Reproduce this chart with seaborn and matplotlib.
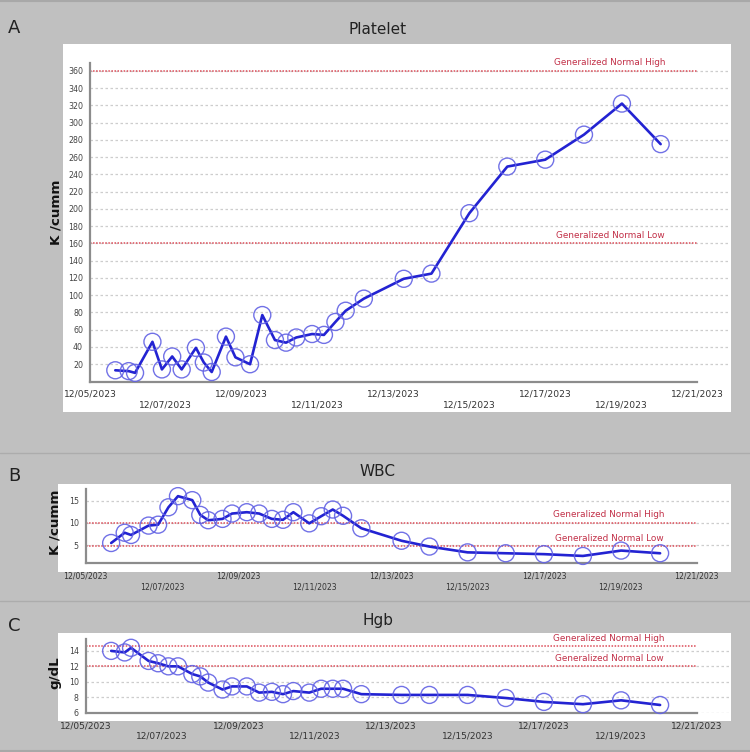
import matplotlib
matplotlib.use("Agg")
import matplotlib.pyplot as plt
import matplotlib.dates as mdates
import pandas as pd
import seaborn as sns
from matplotlib.patches import Rectangle
from matplotlib.lines import Line2D

# sample times, shared by the three labs
times = pd.to_datetime([
    "2023-12-05 16:00", "2023-12-06 00:30", "2023-12-06 04:30", "2023-12-06 15:30",
    "2023-12-06 21:30", "2023-12-07 04:00", "2023-12-07 10:00", "2023-12-07 19:00",
    "2023-12-08 00:00", "2023-12-08 05:00", "2023-12-08 14:00", "2023-12-08 20:00",
    "2023-12-09 05:15", "2023-12-09 13:00", "2023-12-09 21:00", "2023-12-10 04:00",
    "2023-12-10 10:30", "2023-12-10 20:30", "2023-12-11 04:00", "2023-12-11 11:15",
    "2023-12-11 17:45", "2023-12-12 05:15", "2023-12-13 06:30", "2023-12-14 00:00",
    "2023-12-15 00:00", "2023-12-16 00:00", "2023-12-17 00:00", "2023-12-18 00:30",
    "2023-12-19 00:30", "2023-12-20 01:00",
])

platelet = [13, 12, 10, 46, 14, 29, 14, 39, 22, 11, 52, 28, 20, 77, 48, 45, 51, 55,
            54, 69, 82, 96, 119, 125, 195, 249, 257, 286, 322, 275]
wbc = [5.5, 7.8, 7.3, 9.4, 9.6, 13.5, 16.0, 15.1, 11.8, 10.6, 10.9, 12.1, 12.4, 12.1,
       10.9, 10.7, 12.4, 9.9, 11.5, 13.0, 11.6, 8.8, 6.0, 4.7, 3.4, 3.2, 3.0, 2.6, 3.8, 3.2]
hgb = [14.0, 13.8, 14.4, 12.7, 12.4, 12.0, 12.0, 11.0, 10.7, 9.9, 9.0, 9.4, 9.4, 8.6,
       8.7, 8.4, 8.8, 8.6, 9.1, 9.1, 9.1, 8.4, 8.3, 8.3, 8.3, 7.9, 7.4, 7.1, 7.6, 7.0]

# generalized normal (low, high)
platelet_normal = (160, 360)
wbc_normal = (4.8, 10.0)
hgb_normal = (12.0, 14.6)

platelet_ticks = list(range(20, 361, 20))
wbc_ticks = [5, 10, 15]
hgb_ticks = [6, 8, 10, 12, 14]

date_ticks = pd.date_range("2023-12-05", "2023-12-21", freq="2D")
date_labels = [d.strftime("%m/%d/%Y") for d in date_ticks]

W, H = 750, 752
BG = "#c0c0c0"
LINE_C = "#2323d2"
MARK_C = "#6262e4"
REF_C = "#dc4c58"
REF_TXT = "#c23048"
LABEL_X = pd.Timestamp("2023-12-18 17:00")


def fig_rect(l, r, t, b):
    return [l / W, 1 - b / H, (r - l) / W, (b - t) / H]


sns.set_theme(style="white")
plt.rcParams["font.family"] = ["DejaVu Sans"]

fig = plt.figure(figsize=(W / 100, H / 100), dpi=100, facecolor=BG)

panels = [
    dict(letter="A", title="Platelet", unit="K /cumm", values=platelet,
         normal=platelet_normal, yticks=platelet_ticks, ylim=(0, 369),
         axes_px=(90, 729, 63, 381.5), x21=697, box=(63, 731, 44, 412),
         letter_y=28, title_y=30, unit_xy=(56, 212), xfs=6.6, yfs=5.7),
    dict(letter="B", title="WBC", unit="K /cumm", values=wbc,
         normal=wbc_normal, yticks=wbc_ticks, ylim=(0.95, 17.6),
         axes_px=(85.7, 729, 489, 563.3), x21=696.7, box=(58, 731, 484, 571.7),
         letter_y=476, title_y=471, unit_xy=(55, 522), xfs=5.6, yfs=5.7),
    dict(letter="C", title="Hgb", unit="g/dL", values=hgb,
         normal=hgb_normal, yticks=hgb_ticks, ylim=(6, 15.5),
         axes_px=(85.7, 729, 639.3, 712.7), x21=696.7, box=(58, 731, 633, 720.7),
         letter_y=626, title_y=620, unit_xy=(55, 673), xfs=6.5, yfs=5.7),
]

start = pd.Timestamp("2023-12-05")
end = pd.Timestamp("2023-12-21")

for p in panels:
    l, r, t, b = p["axes_px"]
    bl, br, bt, bb = p["box"]
    fig.add_artist(Rectangle((bl / W, 1 - bb / H), (br - bl) / W, (bb - bt) / H,
                             transform=fig.transFigure, facecolor="white",
                             edgecolor="none", zorder=-1))
    ax = fig.add_axes(fig_rect(l, r, t, b))
    ax.set_facecolor("none")

    days_right = 16 * (r - l) / (p["x21"] - l)

    ax.yaxis.grid(True, color="#cdcdcd", linestyle=(0, (2, 2)), linewidth=0.9, zorder=0)
    ax.xaxis.grid(False)

    for y in p["normal"]:
        ax.hlines(y, start, end, colors=REF_C, linestyles=(0, (1, 1)), linewidth=1.1, zorder=1)
    ax.annotate("Generalized Normal Low", xy=(mdates.date2num(LABEL_X), p["normal"][0]),
                xytext=(0, 2.5), textcoords="offset points", ha="center", va="bottom",
                fontsize=6.4, color=REF_TXT)
    ax.annotate("Generalized Normal High", xy=(mdates.date2num(LABEL_X), p["normal"][1]),
                xytext=(0, 2.5), textcoords="offset points", ha="center", va="bottom",
                fontsize=6.4, color=REF_TXT)

    sns.lineplot(x=times, y=p["values"], ax=ax, color=LINE_C, linewidth=1.9, zorder=3)
    sns.scatterplot(x=times, y=p["values"], ax=ax, s=150, facecolor="none",
                    edgecolor=MARK_C, linewidth=1.0, alpha=0.9, zorder=4, clip_on=False)

    ax.set_xlim(start, start + pd.Timedelta(days=days_right))
    ax.set_ylim(*p["ylim"])
    ax.set_xlabel("")
    ax.set_ylabel("")

    ax.set_xticks(date_ticks)
    ax.set_xticklabels([lab if i % 2 == 0 else "\n" + lab for i, lab in enumerate(date_labels)])
    ax.set_yticks(p["yticks"])
    ax.set_yticklabels([str(v) for v in p["yticks"]])

    ax.tick_params(axis="x", direction="inout", length=8, width=1.2, color="#8c8c8c",
                   labelsize=p["xfs"], labelcolor="#333333", pad=2)
    ax.tick_params(axis="y", direction="inout", length=6, width=1.2, color="#8c8c8c",
                   labelsize=p["yfs"], labelcolor="#444444", pad=2)

    for side in ["top", "right"]:
        ax.spines[side].set_visible(False)
    for side in ["left", "bottom"]:
        ax.spines[side].set_color("#8c8c8c")
        ax.spines[side].set_linewidth(1.6)
    ax.spines["bottom"].set_bounds(mdates.date2num(start), mdates.date2num(end))

    fig.text(14 / W, 1 - p["letter_y"] / H, p["letter"], fontsize=13, color="#222222",
             ha="center", va="center")
    fig.text(378 / W, 1 - p["title_y"] / H, p["title"], fontsize=11, color="#222222",
             ha="center", va="center")
    ux, uy = p["unit_xy"]
    fig.text(ux / W, 1 - uy / H, p["unit"], fontsize=9.6, fontweight="bold",
             color="#111111", rotation=90, ha="center", va="center")

# panel separators and outer frame
for y in [452.7, 600.7]:
    fig.add_artist(Line2D([0, 1], [1 - y / H] * 2, transform=fig.transFigure,
                          color="#acacac", linewidth=1))
fig.add_artist(Line2D([0, 1], [1 - 1 / H] * 2, transform=fig.transFigure,
                      color="#a8a8a8", linewidth=1.5))
fig.add_artist(Line2D([0, 1], [1 - 750.5 / H] * 2, transform=fig.transFigure,
                      color="#a8a8a8", linewidth=1.5))

fig.savefig("out.png", dpi=100, facecolor=BG)
